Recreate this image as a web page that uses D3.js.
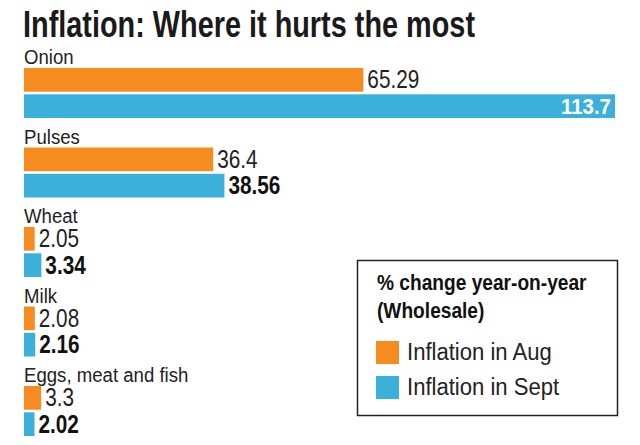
<!DOCTYPE html>
<html>
<head>
<meta charset="utf-8">
<script src="https://cdn.jsdelivr.net/npm/d3@7/dist/d3.min.js"></script>
<style>
  html, body { margin: 0; padding: 0; background: #fff; }
  svg { display: block; }
</style>
</head>
<body>
<svg id="chart" width="640" height="445"></svg>
<script>
const categories = ["Onion", "Pulses", "Wheat", "Milk", "Eggs, meat and fish"];
const seriesNames = ["Inflation in Aug", "Inflation in Sept"];
const augValues = [65.29, 36.4, 2.05, 2.08, 3.3];
const septValues = [113.7, 38.56, 3.34, 2.16, 2.02];
const augLabels = ["65.29", "36.4", "2.05", "2.08", "3.3"];
const septLabels = ["113.7", "38.56", "3.34", "2.16", "2.02"];
const titleText = "Inflation: Where it hurts the most";
const legendTitle = ["% change year-on-year", "(Wholesale)"];
const colors = ["#F68B1F", "#3AB0DB"];

const FONT = "'Liberation Sans', Arial, sans-serif";
const svg = d3.select("#chart");
const W = 640, H = 445;

function condense(sel, k) {
  sel.each(function() {
    const l = this.getComputedTextLength();
    d3.select(this).attr("textLength", l * k).attr("lengthAdjust", "spacingAndGlyphs");
  });
}

const x = d3.scaleLinear().domain([0, 113.7]).range([24, 615]);
const y0 = d3.scaleBand().domain(categories).range([68, 68 + 79.5 * categories.length]).paddingInner(0).paddingOuter(0);
const y1 = d3.scaleBand().domain([0, 1]).range([0, 50]).paddingInner(0.1);

const data = categories.map((c, i) => ({
  cat: c,
  vals: [
    { s: 0, v: augValues[i], label: augLabels[i] },
    { s: 1, v: septValues[i], label: septLabels[i] }
  ]
}));

// Title
svg.append("text")
  .attr("x", 23).attr("y", 37)
  .attr("font-family", FONT)
  .attr("font-weight", "bold")
  .attr("font-size", 37)
  .attr("fill", "#1a1a1a")
  .attr("textLength", 452)
  .attr("lengthAdjust", "spacingAndGlyphs")
  .text(titleText);

const groups = svg.selectAll("g.cat").data(data).join("g")
  .attr("class", "cat")
  .attr("transform", d => `translate(0,${y0(d.cat)})`);

groups.append("text")
  .attr("x", 24).attr("y", -4)
  .attr("font-family", FONT)
  .attr("font-size", 20)
  .attr("fill", "#222")
  .text(d => d.cat)
  .call(condense, 0.93);

groups.selectAll("rect").data(d => d.vals).join("rect")
  .attr("x", x(0))
  .attr("y", d => y1(d.s))
  .attr("width", d => x(d.v) - x(0))
  .attr("height", y1.bandwidth())
  .attr("fill", d => colors[d.s]);

groups.selectAll("text.val").data(d => d.vals).join("text")
  .attr("class", "val")
  .each(function(d) {
    const inside = x(d.v) + 60 > W;
    const t = d3.select(this);
    t.attr("font-family", FONT)
     .attr("font-weight", d.s === 1 ? "bold" : "normal")
     .attr("font-size", inside ? 22 : 25)
     .attr("y", y1(d.s) + y1.bandwidth() / 2 + (inside ? 8 : 8.5))
     .attr("x", inside ? x(d.v) - 4 : x(d.v) + 4)
     .attr("text-anchor", inside ? "end" : "start")
     .attr("fill", inside ? "#fff" : (d.s === 1 ? "#111" : "#222"))
     .text(d.label);
    condense(t, inside ? 0.93 : 0.83);
  });

// Legend
const lg = svg.append("g");
lg.append("rect")
  .attr("x", 357.5).attr("y", 260.5)
  .attr("width", 260).attr("height", 155)
  .attr("fill", "#fff")
  .attr("stroke", "#222").attr("stroke-width", 1.5);

lg.selectAll("text.lt").data(legendTitle).join("text")
  .attr("class", "lt")
  .attr("x", 377)
  .attr("y", (d, i) => 290 + i * 28)
  .attr("font-family", FONT)
  .attr("font-weight", "bold")
  .attr("font-size", 21.5)
  .attr("fill", "#111")
  .text(d => d)
  .call(condense, 0.89);

const items = lg.selectAll("g.item").data(seriesNames).join("g")
  .attr("class", "item")
  .attr("transform", (d, i) => `translate(376,${341 + i * 35})`);
items.append("rect")
  .attr("width", 23).attr("height", 23)
  .attr("fill", (d, i) => colors[i]);
items.append("text")
  .attr("x", 31).attr("y", 19)
  .attr("font-family", FONT)
  .attr("font-size", 23)
  .attr("fill", "#222")
  .text(d => d)
  .call(condense, 0.96);
</script>
</body>
</html>
